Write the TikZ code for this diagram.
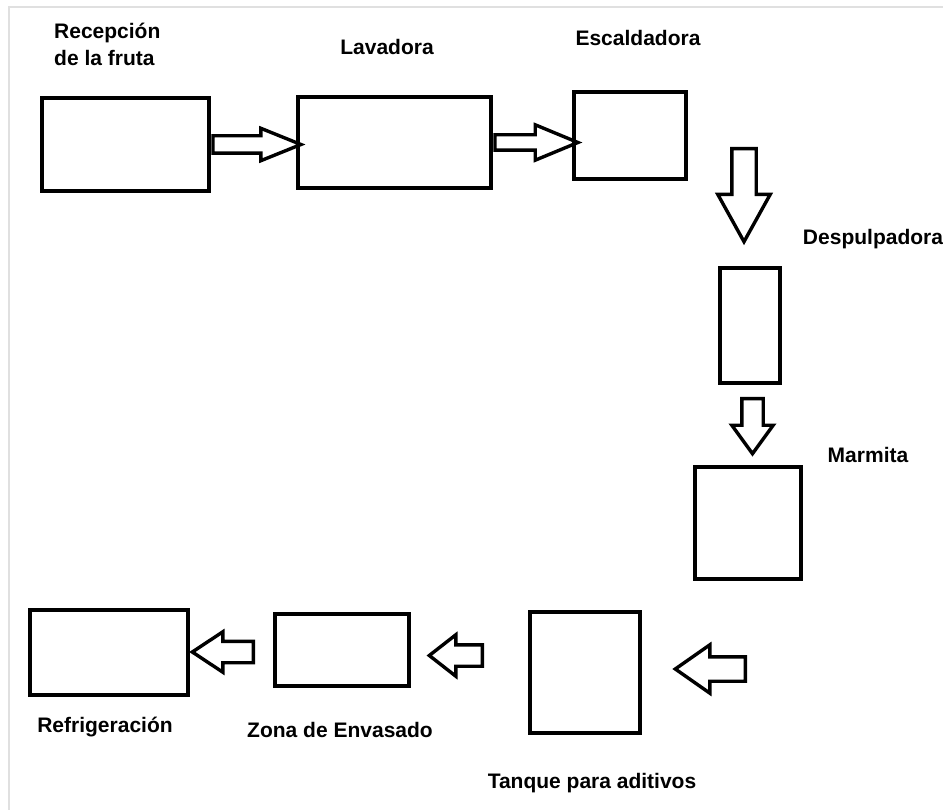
\documentclass[tikz,border=0pt]{standalone}
\usepackage{fontspec}
\setmainfont{Liberation Sans}
\usetikzlibrary{shapes.arrows}

\begin{document}
\begin{tikzpicture}[x=1pt, y=-1pt,
    equipo/.style={draw, line width=4.5pt, inner sep=0pt},
    flecha/.style={single arrow, draw, line width=3.4pt, inner xsep=0pt,
        minimum width=0pt, single arrow head indent=0pt, anchor=tail},
    etiqueta/.style={font=\fontsize{21}{27}\selectfont\bfseries, inner sep=0pt}]
    \useasboundingbox (0,0) rectangle (943,810);
    \draw[black!12, line width=2pt] (9,810) -- (9,7) -- (943,7);

    % Draw nodes for the equipment
    \node[equipo, minimum width=167, minimum height=93] (rec) at (125.5,144.5) {};
    \node[equipo, minimum width=193, minimum height=91] (lav) at (394.5,142.5) {};
    \node[equipo, minimum width=112, minimum height=87] (esc) at (630,135.5) {};
    \node[equipo, minimum width=60, minimum height=115] (des) at (750,325.5) {};
    \node[equipo, minimum width=106, minimum height=112] (mar) at (748,523) {};
    \node[equipo, minimum width=110, minimum height=121] (tan) at (585,672.5) {};
    \node[equipo, minimum width=134, minimum height=72] (zon) at (342,650) {};
    \node[equipo, minimum width=158, minimum height=85] (ref) at (109,652.5) {};

    % Draw labels
    \node[etiqueta, anchor=west, align=left] (lrec) at (54,44) {Recepción\\de la fruta};
    \node[etiqueta] (llav) at (387,47) {Lavadora};
    \node[etiqueta] (lesc) at (638,38) {Escaldadora};
    \node[etiqueta] (ldes) at (873,239) {Despulpadora};
    \node[etiqueta] (lmar) at (868,455) {Marmita};
    \node[etiqueta] (ltan) at (592,783) {Tanque para aditivos};
    \node[etiqueta] (lzon) at (340,730) {Zona de Envasado};
    \node[etiqueta] (lref) at (105,727) {Refrigeración};

    % Draw arrows
    \node[flecha, inner ysep=7, single arrow head extend=7.5, minimum height=88,
        single arrow tip angle=44] (f1) at (rec.east) {};
    \node[flecha, inner ysep=6, single arrow head extend=10, minimum height=83,
        single arrow tip angle=45] (f2) at (lav.east) {};
    \node[flecha, inner ysep=10.5, single arrow head extend=14, minimum height=93,
        single arrow tip angle=58, rotate=-90] (f3) at (744,147) {};
    \node[flecha, inner ysep=9, single arrow head extend=10, minimum height=55,
        single arrow tip angle=72, rotate=-90] (f4) at (752.5,397) {};
    \node[flecha, inner ysep=10.5, single arrow head extend=12, minimum height=70,
        single arrow tip angle=70, rotate=180] (f5) at (747,669) {};
    \node[flecha, inner ysep=9, single arrow head extend=10, minimum height=53,
        single arrow tip angle=76, rotate=180] (f6) at (484,655.5) {};
    \node[flecha, inner ysep=9, single arrow head extend=9.5, minimum height=61,
        single arrow tip angle=67, rotate=180] (f7) at (255,652) {};
\end{tikzpicture}
\end{document}
